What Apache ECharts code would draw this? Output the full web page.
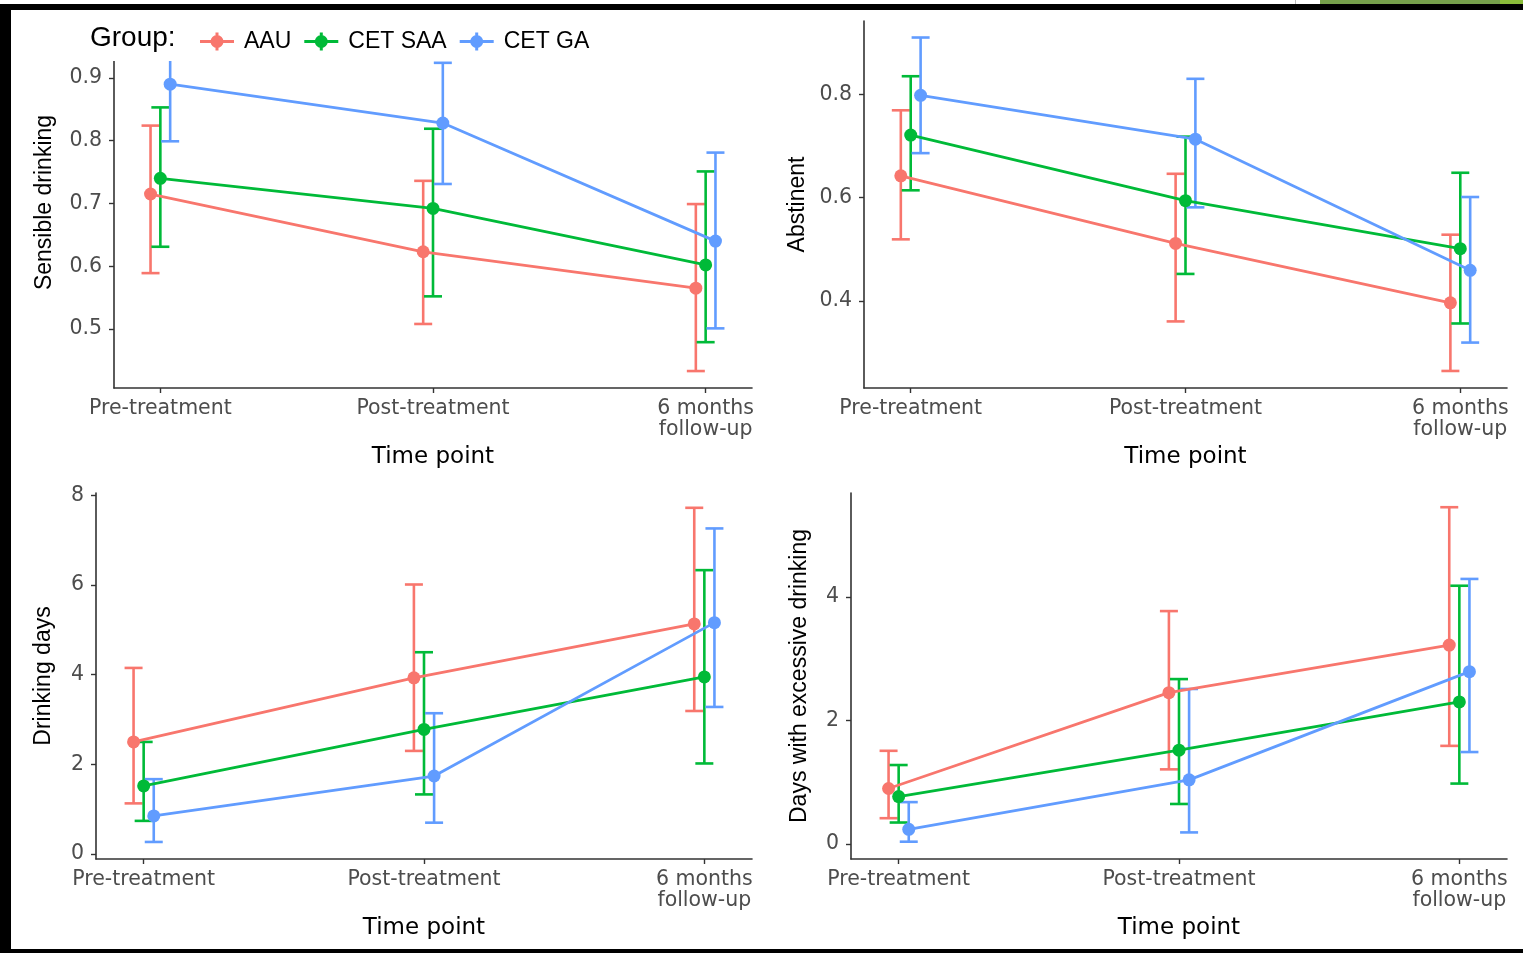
<!DOCTYPE html>
<html>
<head>
<meta charset="utf-8">
<script src="https://cdn.jsdelivr.net/npm/echarts@6/dist/echarts.min.js"></script>
<style>
  html, body { margin: 0; padding: 0; background: #fff; }
  #main { width: 1523px; height: 953px; }
</style>
</head>
<body>
<div id="main"></div>
<script>
// time points and groups
var timePoints = ['Pre-treatment', 'Post-treatment', '6 months\nfollow-up'];
var groups = ['AAU', 'CET SAA', 'CET GA'];
var colors = ['#F8766D', '#00BA38', '#619CFF'];

// Sensible drinking (rows: AAU, CET SAA, CET GA)
var sensibleMean = [[0.715, 0.623, 0.565], [0.740, 0.692, 0.602], [0.890, 0.828, 0.640]];
var sensibleLow  = [[0.589, 0.508, 0.433], [0.631, 0.552, 0.479], [0.799, 0.731, 0.501]];
var sensibleHigh = [[0.824, 0.736, 0.699], [0.853, 0.819, 0.751], [0.975, 0.924, 0.781]];
var sensibleTicks = [0.5, 0.6, 0.7, 0.8, 0.9];

// Abstinent
var abstMean = [[0.642, 0.511, 0.396], [0.721, 0.594, 0.501], [0.798, 0.713, 0.459]];
var abstLow  = [[0.519, 0.360, 0.264], [0.614, 0.452, 0.356], [0.686, 0.581, 0.319]];
var abstHigh = [[0.769, 0.646, 0.528], [0.835, 0.718, 0.648], [0.910, 0.830, 0.601]];
var abstTicks = [0.4, 0.6, 0.8];

// Drinking days
var daysMean = [[2.50, 3.93, 5.13], [1.52, 2.78, 3.95], [0.85, 1.74, 5.16]];
var daysLow  = [[1.13, 2.30, 3.19], [0.74, 1.33, 2.02], [0.27, 0.70, 3.28]];
var daysHigh = [[4.15, 6.01, 7.72], [2.50, 4.50, 6.33], [1.67, 3.14, 7.26]];
var daysTicks = [0, 2, 4, 6, 8];

// Days with excessive drinking
var excMean = [[0.90, 2.45, 3.22], [0.77, 1.52, 2.30], [0.24, 1.04, 2.79]];
var excLow  = [[0.42, 1.21, 1.59], [0.35, 0.65, 0.98], [0.04, 0.19, 1.49]];
var excHigh = [[1.51, 3.77, 5.45], [1.28, 2.67, 4.18], [0.68, 2.51, 4.29]];
var excTicks = [0, 2, 4];

var dodge = [-0.036, 0, 0.036];

var panels = [
  { title: 'Sensible drinking', mean: sensibleMean, low: sensibleLow, high: sensibleHigh, ticks: sensibleTicks,
    min: 0.406, max: 0.997, dec: 1, grid: { left: 114, top: 17, width: 638, height: 371 }, gap: 58 },
  { title: 'Abstinent', mean: abstMean, low: abstLow, high: abstHigh, ticks: abstTicks,
    min: 0.231, max: 0.942, dec: 1, grid: { left: 864, top: 21, width: 643, height: 367 }, gap: 55 },
  { title: 'Drinking days', mean: daysMean, low: daysLow, high: daysHigh, ticks: daysTicks,
    min: -0.11, max: 8.05, dec: 0, grid: { left: 96, top: 493, width: 656, height: 366 }, gap: 41 },
  { title: 'Days with excessive drinking', mean: excMean, low: excLow, high: excHigh, ticks: excTicks,
    min: -0.24, max: 5.68, dec: 0, grid: { left: 851, top: 493, width: 656, height: 366 }, gap: 40 }
];

var tickFont = 'DejaVu Sans';

function errorBar(params, api) {
  var x = api.value(0);
  var top = api.coord([x, api.value(2)]);
  var bot = api.coord([x, api.value(1)]);
  var c = api.visual('color');
  var w = 9;
  var st = { stroke: c, lineWidth: 2.6 };
  return {
    type: 'group',
    children: [
      { type: 'line', shape: { x1: top[0], y1: top[1], x2: bot[0], y2: bot[1] }, style: st },
      { type: 'line', shape: { x1: top[0] - w, y1: top[1], x2: top[0] + w, y2: top[1] }, style: st },
      { type: 'line', shape: { x1: bot[0] - w, y1: bot[1], x2: bot[0] + w, y2: bot[1] }, style: st }
    ]
  };
}

var grids = [], xAxes = [], yAxes = [], series = [];

panels.forEach(function (p, k) {
  grids.push(p.grid);
  xAxes.push({
    type: 'value', gridIndex: k, min: -0.17, max: 2.17,
    name: 'Time point', nameLocation: 'middle', nameGap: 58,
    nameTextStyle: { fontFamily: tickFont, fontSize: 23, color: '#000' },
    axisLine: { onZero: false, lineStyle: { color: '#333', width: 1.6 } },
    axisTick: { customValues: [0, 1, 2], length: 5, lineStyle: { color: '#333', width: 1.4 } },
    axisLabel: {
      customValues: [0, 1, 2], margin: 10,
      fontFamily: tickFont, fontSize: 20.5, color: '#4d4d4d', lineHeight: 21,
      formatter: function (v) { return timePoints[Math.round(v)]; }
    },
    splitLine: { show: false }
  });
  yAxes.push({
    type: 'value', gridIndex: k, min: p.min, max: p.max,
    name: p.title, nameLocation: 'middle', nameGap: p.gap,
    nameTextStyle: { fontFamily: 'Liberation Sans', fontSize: 23, color: '#000' },
    axisLine: { onZero: false, lineStyle: { color: '#333', width: 1.6 } },
    axisTick: { customValues: p.ticks, length: 5, lineStyle: { color: '#333', width: 1.4 } },
    axisLabel: {
      customValues: p.ticks, margin: 12,
      fontFamily: tickFont, fontSize: 20.5, color: '#4d4d4d',
      formatter: function (v) { return v.toFixed(p.dec); }
    },
    splitLine: { show: false }
  });

  groups.forEach(function (g, i) {
    var pts = [], bars = [];
    for (var t = 0; t < timePoints.length; t++) {
      pts.push([t + dodge[i], p.mean[i][t]]);
      bars.push([t + dodge[i], p.low[i][t], p.high[i][t]]);
    }
    series.push({
      type: 'custom', name: g, xAxisIndex: k, yAxisIndex: k,
      renderItem: errorBar, data: bars, z: 2,
      itemStyle: { color: colors[i] }
    });
    series.push({
      type: 'line', name: g, xAxisIndex: k, yAxisIndex: k, data: pts, z: 3,
      symbol: 'circle', symbolSize: 13,
      lineStyle: { width: 2.8, color: colors[i] },
      itemStyle: { color: colors[i] }
    });
  });
});

var legendIcon = 'path://M0,7.5 L34,7.5 L34,10.5 L0,10.5 Z M15.5,0 L18.5,0 L18.5,18 L15.5,18 Z M10.5,9 A6.5,6.5 0 1 1 23.5,9 A6.5,6.5 0 1 1 10.5,9 Z';

var option = {
  animation: false,
  backgroundColor: '#fff',
  color: colors,
  grid: grids,
  xAxis: xAxes,
  yAxis: yAxes,
  legend: {
    data: groups.map(function (g) { return { name: g, icon: legendIcon }; }),
    left: 195, top: 25, z: 60,
    itemWidth: 34, itemHeight: 18, itemGap: 13,
    textStyle: { fontFamily: 'Liberation Sans', fontSize: 23, color: '#000', padding: [0, 0, 0, 5] }
  },
  graphic: [
    { type: 'rect', z: 50, shape: { x: 60, y: 10, width: 560, height: 51 }, style: { fill: '#fff' } },
    { type: 'text', z: 61, x: 90, y: 38, style: { text: 'Group:', fontFamily: 'Liberation Sans', fontSize: 28, fill: '#000', verticalAlign: 'middle' } },
    { type: 'rect', z: 100, shape: { x: 0, y: 4, width: 1523, height: 6 }, style: { fill: '#000' } },
    { type: 'rect', z: 100, shape: { x: 0, y: 4, width: 11, height: 949 }, style: { fill: '#000' } },
    { type: 'rect', z: 100, shape: { x: 0, y: 949, width: 1523, height: 4 }, style: { fill: '#000' } },
    { type: 'rect', z: 100, shape: { x: 1320, y: 0, width: 180, height: 4 }, style: { fill: '#76a04c' } },
    { type: 'rect', z: 100, shape: { x: 1500, y: 0, width: 23, height: 4 }, style: { fill: '#8bbd3a' } },
    { type: 'rect', z: 100, shape: { x: 1295, y: 0, width: 1, height: 4 }, style: { fill: '#bbb' } }
  ],
  series: series
};

var chart = echarts.init(document.getElementById('main'));
chart.setOption(option);
</script>
</body>
</html>
